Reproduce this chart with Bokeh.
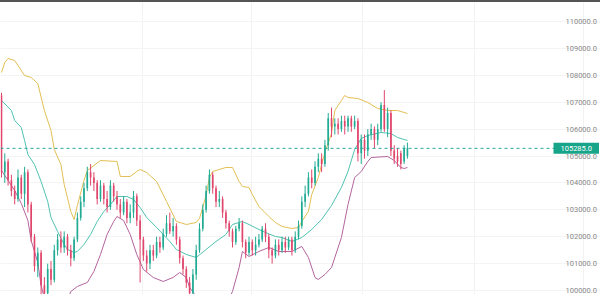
from bokeh.plotting import figure
from bokeh.models import Range1d, FixedTicker, NumeralTickFormatter, Span, Label, Div, ColumnDataSource
from bokeh.layouts import column
from bokeh.embed import file_html
from bokeh.resources import INLINE

# ---- candle data (index = candle number) ----
opens = [107250,104400,104800,104100,103700,103400,104200,103600,104400,103200,
         102000,100900,101400,100200,99900,100800,100400,101500,101900,101600,
         102000,101500,101200,101900,102700,103300,103800,104400,104200,104000,
         103400,103900,103400,103100,103900,103500,103200,102900,103300,102700,
         102900,103500,102600,101900,101300,101000,101500,101300,101800,101600,
         102100,102500,102200,102400,101900,101200,100800,100300,99900,100600,
         101500,102300,103000,103700,104300,103800,103300,103400,102900,102500,
         102200,101800,102300,102500,101800,101400,101800,101500,101700,101900,
         102300,102000,101500,101300,101700,101500,101800,101600,101900,101500,
         102000,102400,103300,103600,104200,104000,104600,104900,104700,105400,
         106400,106100,106200,106000,106300,106100,106400,106100,106300,105100,
         105600,105200,105800,106000,105600,106000,106900,106000,106600,105200,
         105000,105100,104800,105000]
closes = [104400,104800,104100,103700,103400,104200,103600,104400,103200,102000,
          100900,101400,100200,99900,100800,100400,101500,101900,101600,102000,
          101500,101200,101900,102700,103300,103800,104400,104200,104000,103400,
          103900,103400,103100,103900,103500,103200,102900,103300,102700,102900,
          103500,102600,101900,101300,101000,101500,101300,101800,101600,102100,
          102500,102200,102400,101900,101200,100800,100300,99900,100600,101500,
          102300,103000,103700,104300,103800,103300,103400,102900,102500,102200,
          101800,102300,102500,101800,101400,101800,101500,101700,101900,102300,
          102000,101500,101300,101700,101500,101800,101600,101900,101500,102000,
          102400,103300,103600,104200,104000,104600,104900,104700,105400,106400,
          106100,106200,106000,106300,106100,106400,106100,106300,105100,105600,
          105200,105800,106000,105600,106000,106900,106000,106600,105200,104900,
          104800,104700,105300,105285]
highs = [107350,105100,104900,104300,103900,104500,104300,104600,104500,103300,
         102100,101600,101500,100500,101000,101100,101700,102100,102200,102200,
         102100,101700,102000,102900,103500,104000,104600,104700,104400,104100,
         104100,104000,103700,104100,104000,103700,103400,103500,103400,103200,
         103700,103600,102800,102000,101500,101700,101700,102000,102000,102300,
         102800,102900,102700,102500,102000,101300,100900,100500,100800,101700,
         102500,103200,103900,104500,104400,103900,103700,103500,103000,102600,
         102300,102400,102700,102600,101900,102000,101900,102000,102100,102400,
         102500,102100,101600,101900,101900,102000,102000,102000,102000,102200,
         102600,103500,103900,104400,104500,104800,105100,105100,105600,106600,
         106800,106400,106400,106500,106500,106500,106500,106500,106400,105800,
         105800,106000,106200,106100,106200,107000,107450,106800,106700,105400,
         105300,105200,105400,105500]
lows = [104200,104000,103900,103500,103200,103300,103400,103100,102900,101800,
        100700,100500,99700,99500,99700,100200,100300,101300,101400,101400,
        101300,100900,101100,101800,102600,103100,103700,103900,103700,103200,
        103300,103200,102900,103000,103300,103000,102700,102800,102500,102500,
        102700,102400,100300,101100,100700,100800,101100,101200,101400,101500,
        102000,102100,102000,101700,101000,100600,100100,99700,99700,100400,
        101400,102200,102900,103600,103600,103100,103100,102700,102300,102000,
        101600,101700,102200,101600,101200,101300,101300,101300,101600,101800,
        101800,101200,101000,101200,101300,101400,101400,101500,101300,101400,
        101900,102300,103100,103500,103800,103900,104400,104400,104600,105200,
        105700,105800,105800,105900,105800,105900,105900,106000,104800,104700,
        104900,105000,105600,105300,105400,105900,105900,105700,105000,104700,
        104600,104500,104700,104900]

# ---- Bollinger bands (read at selected candles) ----
upper_idx = [0,1,2,4,5,7,9,11,13,15,16,18,19,21,22,23,25,26,28,30,35,36,39,41,42,44,47,50,53,56,59,60,
             62,63,64,68,70,72,73,75,76,78,81,83,85,88,90,91,93,94,96,97,98,100,101,103,104,105,108,111,
             114,117,120,122,123]
upper_val = [108104,108476,108625,108550,108365,107993,107918,107696,106692,105948,105242,104685,103941,
             102938,102640,103161,104090,104462,104647,104833,104796,104239,104239,104425,104499,104387,
             104053,103309,102566,102454,102529,102677,103532,104201,104425,104574,104574,104053,103867,
             103830,103570,103124,102752,102529,102380,102306,102343,102566,102938,103570,104201,104685,
             105131,105837,106692,107064,107250,107175,107138,106989,106766,106692,106692,106618,106580]
mid_idx = [0,3,4,6,7,8,10,12,14,15,17,19,20,22,23,25,27,29,31,33,35,38,40,42,44,47,49,51,53,56,59,62,
           65,68,70,73,75,78,80,83,85,88,91,94,97,100,103,105,107,109,111,115,118,120,122,123]
mid_val = [107064,106692,106320,106060,105577,105056,104685,104053,103309,102715,102194,101711,101525,
           101414,101451,101711,102083,102566,102938,103198,103495,103495,103384,103086,102715,102343,
           102083,101823,101525,101339,101228,101525,101823,102083,102454,102566,102454,102269,102157,
           102008,101971,101823,101971,102269,102640,103161,103830,104425,105242,105651,105763,105874,
           105837,105688,105614,105577]
lower_idx = [0,2,4,6,8,9,11,12,14,16,18,20,21,23,26,28,30,32,34,35,37,39,41,43,46,49,52,54,56,57,59,
             62,65,68,70,72,73,75,78,81,84,88,91,93,95,96,98,100,103,105,107,109,111,112,117,119,121,
             122,123]
lower_val = [104462,104090,103718,103235,102603,101860,101042,100187,99257,98812,98960,99630,99964,
             100150,100299,100708,101340,102083,102566,102752,102603,102083,101340,100782,100484,100336,
             100484,100670,100484,100113,99778,99072,98960,99444,99964,100856,101451,101265,101451,
             101600,101451,101451,101637,101228,100484,100410,100596,100856,101971,103198,104201,104425,
             104796,104945,104982,104833,104573,104536,104573]

last_price = 105285.0
price_text = "105285.0"
y_ticks = [100000,101000,102000,103000,104000,105000,106000,107000,108000,109000,110000]
grid_x = [42.7, 75.8, 109.4, 143.2, 176.5]

UP = "#22ab94"
DOWN = "#e0466c"

idx = list(range(len(opens)))
colors = [UP if c >= o else DOWN for o, c in zip(opens, closes)]
src = ColumnDataSource(dict(
    x=idx, high=highs, low=lows,
    top=[max(o, c) for o, c in zip(opens, closes)],
    bottom=[min(o, c) for o, c in zip(opens, closes)],
    color=colors))

p = figure(width=600, height=292, x_range=Range1d(-0.3, 181.5), y_range=Range1d(99852, 110706),
           output_backend="svg", toolbar_location=None, y_axis_location="right",
           min_border_left=0, min_border_right=0, min_border_top=0, min_border_bottom=0)
p.outline_line_color = None
p.background_fill_color = "white"
p.xaxis.visible = False
p.xgrid.ticker = FixedTicker(ticks=grid_x)
p.xgrid.grid_line_color = "#f2f2f2"
p.ygrid.grid_line_color = "#f4f4f4"

# right price axis, drawn over the right strip of the plot
ax = p.yaxis[0]
ax.ticker = FixedTicker(ticks=y_ticks)
ax.formatter = NumeralTickFormatter(format="0.0")
ax.axis_line_color = None
ax.major_tick_line_color = None
ax.minor_tick_line_color = None
ax.major_label_text_font = "Roboto"
ax.major_label_text_font_size = "7.5px"
ax.major_label_text_color = "#8a8a8a"
ax.major_label_standoff = -41

# bands
p.line(upper_idx, upper_val, line_color="#e2bf55", line_width=1)
p.line(mid_idx, mid_val, line_color="#4fc2b1", line_width=1)
p.line(lower_idx, lower_val, line_color="#b3649e", line_width=1)

# candles
p.segment(x0="x", y0="low", x1="x", y1="high", line_color="color", line_width=1, source=src)
p.vbar(x="x", width=0.5, top="top", bottom="bottom", fill_color="color", line_color=None,
       source=src)

# last price line + label
p.add_layout(Span(location=last_price, dimension="width", line_color="#26a69a",
                  line_dash="3 3", line_width=1))
p.add_layout(Label(x=553, y=last_price, x_units="screen", y_units="data",
                   text=price_text, text_font="Roboto",
                   text_font_size="7.5px", text_color="white", text_baseline="middle",
                   text_align="left", background_fill_color="#17a589",
                   padding=(7, 3)))

top_bar = Div(text="", width=600, height=2, styles={"background-color": "#555555", "margin": "0"})
layout = column(top_bar, p, spacing=0)

open("out.html", "w").write(file_html(layout, INLINE))
